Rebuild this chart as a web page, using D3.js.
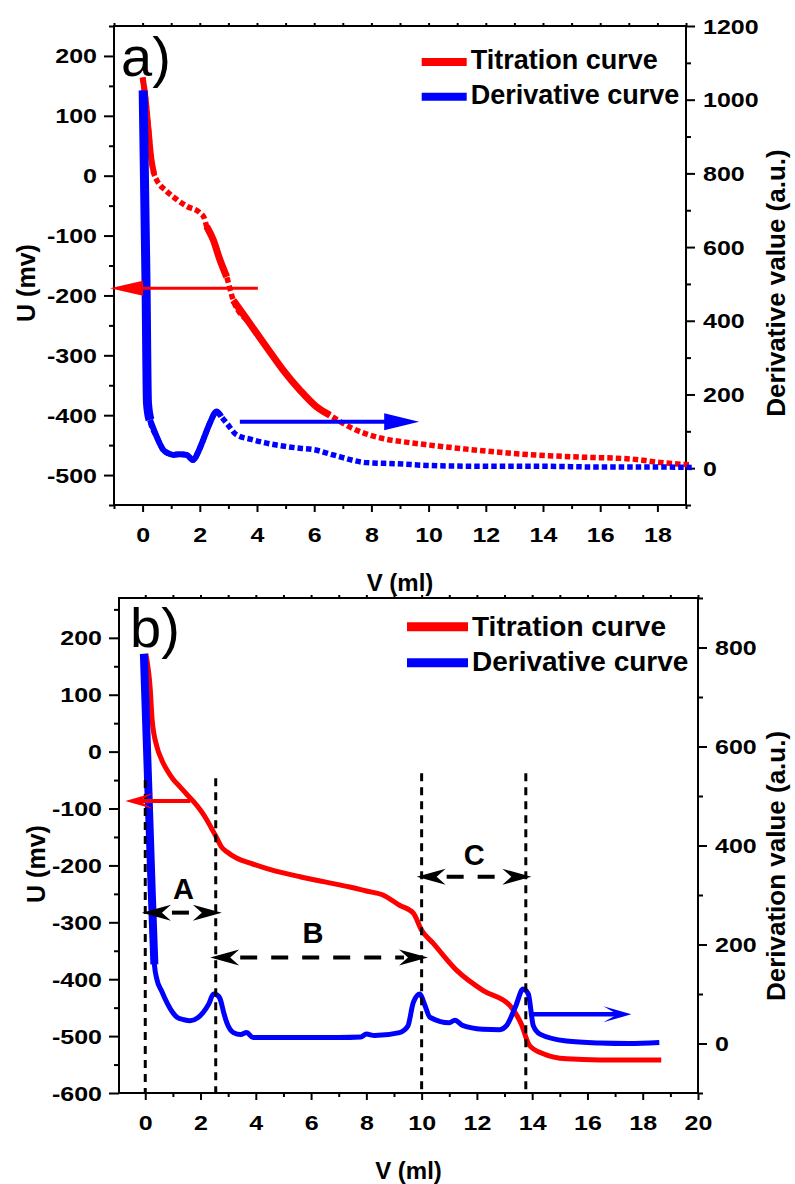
<!DOCTYPE html>
<html>
<head>
<meta charset="utf-8">
<script src="https://cdn.jsdelivr.net/npm/d3@7"></script>
<style>
  body { margin: 0; background: #fff; }
</style>
</head>
<body>
<div id="chart"></div>
<script>
// ---- panel a) data ----
const aTitrV = [0, 0.1, 0.2, 0.3, 0.4, 0.49, 0.84, 1.2, 1.54, 2.0, 2.15, 2.24, 2.47, 2.7, 2.94, 3.17, 3.75, 4.33, 4.92, 5.5, 6.08, 6.55, 7.25, 8.4, 9.2, 10.05, 11.8, 13.55, 15.3, 17.04, 18.1, 19.2];
const aTitrU = [164, 130, 80, 30, 3, -7, -26, -40, -51, -62, -70, -85, -107, -140, -169, -208, -247, -286, -325, -358, -386, -400, -420, -439, -445, -450, -459, -466, -470, -473, -479, -483];
const aDerV = [0.02, 0.12, 0.17, 0.26, 0.49, 0.72, 0.9, 1.07, 1.3, 1.54, 1.77, 1.95, 2.12, 2.35, 2.59, 2.75, 2.94, 3.29, 3.8, 4.33, 5.5, 6.0, 6.66, 7.83, 8.9, 10.05, 12, 14, 16, 18, 19.2];
const aDerD = [1025, 500, 177, 131, 86, 50, 40, 36, 38, 36, 22, 45, 77, 122, 154, 140, 122, 90, 78, 68, 54, 50, 36, 15, 12, 7, 5, 5, 3, 3, 2];

const aXTicks = [0, 2, 4, 6, 8, 10, 12, 14, 16, 18];
const aYTicks = [-500, -400, -300, -200, -100, 0, 100, 200];
const aY2Ticks = [0, 200, 400, 600, 800, 1000, 1200];

// ---- panel b) data ----
const bTitrV = [0.02, 0.18, 0.25, 0.42, 0.6, 0.78, 1.0, 1.26, 1.5, 1.75, 2.0, 2.23, 2.4, 2.59, 2.75, 2.95, 3.3, 3.8, 4.5, 5.6, 6.5, 7.4, 8.0, 8.6, 9.2, 9.7, 10.0, 10.42, 11.26, 12.23, 13.19, 13.4, 13.6, 13.9, 14.4, 15.24, 16.44, 18.67];
const bTitrU = [172, 110, 55, 9, -15, -32, -48, -62, -75, -88, -103, -120, -135, -152, -167, -176, -187, -196, -207, -220, -229, -238, -245, -252, -270, -284, -314, -337, -384, -420, -446, -460, -478, -516, -531, -540, -542, -542];
const bDerV = [-0.05, 0.24, 0.33, 0.42, 0.6, 0.78, 1.0, 1.15, 1.4, 1.63, 1.9, 2.1, 2.3, 2.47, 2.6, 2.71, 2.85, 2.95, 3.19, 3.45, 3.67, 3.9, 5.0, 6.0, 7.0, 7.8, 8.0, 8.3, 9.2, 9.5, 9.7, 9.94, 10.1, 10.3, 11.0, 11.2, 11.5, 12.2, 12.83, 13.07, 13.4, 13.67, 13.86, 14.04, 14.28, 15.24, 16.44, 17.5, 18.6];
const bDerD = [787, 298, 160, 130, 105, 83, 62, 53, 48, 46, 52, 63, 80, 100, 98, 90, 60, 42, 22, 18, 22, 12, 12, 12, 12, 13, 19, 16, 22, 35, 83, 100, 80, 53, 42, 47, 36, 29, 28, 36, 75, 110, 100, 36, 19, 5, 1, 0, 2];

const bXTicks = [0, 2, 4, 6, 8, 10, 12, 14, 16, 18, 20];
const bYTicks = [-600, -500, -400, -300, -200, -100, 0, 100, 200];
const bY2Ticks = [0, 200, 400, 600, 800];

// regions marked in b)
const markV = [0, 2.55, 10, 13.77];
const markTopU = [-50, -47, -38, -38];
const regionNames = ["A", "B", "C"];
const regionFrom = [-0.12, 2.35, 9.82];
const regionTo = [2.77, 10.23, 13.97];
const regionU = [-283, -362, -220];
const regionLabelV = [1.38, 6.07, 11.9];
const regionLabelU = [-259, -337, -200];

const legendNames = ["Titration curve", "Derivative curve"];

const W = 795, H = 1184;
const RED = "#ff0000", BLUE = "#0000ff";
const TEXT_FONT = "'Liberation Sans', Arial, sans-serif";
const TICK_STRETCH = 1.25; // tick digits in the original are wide

const svg = d3.select("#chart").append("svg")
  .attr("width", W)
  .attr("height", H)
  .style("background", "#fff");

const xa = d3.scaleLinear([-1, 19], [114, 686]);
const ya = d3.scaleLinear([-550, 250], [505, 26]);
const ya2 = d3.scaleLinear([-100, 1200], [505, 26]);

const xb = d3.scaleLinear([-0.95, 20], [119, 698]);
const yb = d3.scaleLinear([-600, 270], [1093, 598]);
const yb2 = d3.scaleLinear([-100, 900], [1093, 598]);

function axes(x, yL, yR, xTicks, yTicks, y2Ticks, yStep, y2Step) {
  const [x0, x1] = x.range();
  const [yBot, yTop] = yL.range();
  const g = svg.append("g");
  const fmt = d => String(d);
  const [dx0, dx1] = x.domain();
  const inside = s => v => v >= s.domain()[0] - 1e-6 && v <= s.domain()[1] + 1e-6;
  const xMinor = d3.range(Math.ceil(dx0), dx1 + 0.01, 1).filter(v => !xTicks.includes(v));
  const yMinor = d3.range(yTicks[0] - yStep / 2, yL.domain()[1] + 1, yStep).filter(inside(yL));
  const y2Minor = d3.range(y2Ticks[0] - y2Step / 2, yR.domain()[1] + 1, y2Step).filter(inside(yR));

  g.append("g").attr("transform", `translate(0,${yBot})`)
    .call(d3.axisBottom(x).tickValues(xMinor).tickSize(4).tickFormat(""));
  g.append("g").attr("transform", `translate(0,${yBot})`)
    .call(d3.axisBottom(x).tickValues(xTicks).tickSize(7).tickFormat(fmt))
    .call(a => a.selectAll("text").attr("y", 37).attr("dy", null));
  g.append("g").attr("transform", `translate(0,${yTop})`)
    .call(d3.axisTop(x).tickValues(xTicks.concat(xMinor)).tickSize(3).tickFormat(""));

  g.append("g").attr("transform", `translate(${x0},0)`)
    .call(d3.axisLeft(yL).tickValues(yMinor).tickSize(5).tickFormat(""));
  g.append("g").attr("transform", `translate(${x0},0)`)
    .call(d3.axisLeft(yL).tickValues(yTicks).tickSize(10).tickFormat(fmt))
    .call(a => a.selectAll("text").attr("x", -17 / TICK_STRETCH).attr("dy", "0.35em"));

  g.append("g").attr("transform", `translate(${x1},0)`)
    .call(d3.axisRight(yR).tickValues(y2Minor).tickSize(5).tickFormat(""));
  g.append("g").attr("transform", `translate(${x1},0)`)
    .call(d3.axisRight(yR).tickValues(y2Ticks).tickSize(9).tickFormat(fmt))
    .call(a => a.selectAll("text").attr("x", 17 / TICK_STRETCH).attr("dy", "0.35em"));

  g.selectAll(".domain").remove();
  g.selectAll(".tick line").attr("stroke", "#000").attr("stroke-width", 2);
  g.selectAll(".tick text")
    .attr("fill", "#000")
    .attr("font-family", TEXT_FONT)
    .attr("font-weight", "bold")
    .attr("font-size", 20)
    .attr("transform", `scale(${TICK_STRETCH},1)`);

  g.append("rect")
    .attr("x", x0).attr("y", yTop)
    .attr("width", x1 - x0).attr("height", yBot - yTop)
    .attr("fill", "none").attr("stroke", "#000").attr("stroke-width", 2);
}

function curve(x, y, pts, color, width, dash) {
  const line = d3.line().x(d => x(d[0])).y(d => y(d[1])).curve(d3.curveMonotoneX);
  const p = svg.append("path")
    .datum(pts)
    .attr("d", line)
    .attr("fill", "none")
    .attr("stroke", color)
    .attr("stroke-width", width)
    .attr("stroke-linejoin", "round");
  if (dash) p.attr("stroke-dasharray", dash);
  return p;
}

const within = (pts, a, b) => pts.filter(d => d[0] >= a && d[0] <= b);

function head(tx, ty, dir, L, h, inner, color) {
  svg.append("path")
    .attr("d", `M${tx},${ty} L${tx - dir * L},${ty - h} L${tx - dir * inner},${ty} L${tx - dir * L},${ty + h} Z`)
    .attr("fill", color);
}

function label(text, x, y, size, opts = {}) {
  const t = svg.append("text")
    .attr("font-family", TEXT_FONT)
    .attr("font-weight", opts.weight || "bold")
    .attr("font-size", size)
    .attr("text-anchor", opts.anchor || "start")
    .attr("fill", "#000")
    .text(text);
  if (opts.rotate) t.attr("transform", `translate(${x},${y}) rotate(-90)`);
  else t.attr("x", x).attr("y", y);
  return t;
}

function legend(x0, x1, rows, size, width) {
  rows.forEach((r, i) => {
    svg.append("line")
      .attr("x1", x0).attr("x2", x1)
      .attr("y1", r.y).attr("y2", r.y)
      .attr("stroke", r.color).attr("stroke-width", width);
    label(legendNames[i], x1 + 4, r.base, size);
  });
}

// ================= panel a) =================
axes(xa, ya, ya2, aXTicks, aYTicks, aY2Ticks, 100, 200);

const aTitr = d3.zip(aTitrV, aTitrU);
const aDer = d3.zip(aDerV, aDerD);

curve(xa, ya, aTitr, RED, 5.5, "5.5,3");
curve(xa, ya, within(aTitr, 0, 0.4), RED, 6);
curve(xa, ya, within(aTitr, 2.24, 2.94), RED, 7);
curve(xa, ya, within(aTitr, 3.17, 6.55), RED, 7);

curve(xa, ya2, aDer, BLUE, 5.5, "5.5,3");
curve(xa, ya2, within(aDer, 0, 0.26), BLUE, 9);
curve(xa, ya2, within(aDer, 0.26, 2.75), BLUE, 6);

// arrows pointing to the axes
svg.append("line")
  .attr("x1", xa(4.03)).attr("x2", xa(-1.14) + 20)
  .attr("y1", ya(-188)).attr("y2", ya(-188))
  .attr("stroke", RED).attr("stroke-width", 3);
head(xa(-1.14), ya(-188), -1, 33, 7.5, 33, RED);

svg.append("line")
  .attr("x1", xa(3.4)).attr("x2", xa(9.67) - 20)
  .attr("y1", ya2(126)).attr("y2", ya2(126))
  .attr("stroke", BLUE).attr("stroke-width", 4);
head(xa(9.67), ya2(126), 1, 35, 8.5, 35, BLUE);

legend(421.7, 466.7, [
  { y: 62, base: 68.5, color: RED },
  { y: 96.7, base: 103.5, color: BLUE }
], 27, 8);

label("a)", 121, 76, 56, { weight: "normal" });
label("V (ml)", 400, 591, 24, { anchor: "middle" });
label("U (mv)", 35, 283, 25, { anchor: "middle", rotate: true });
label("Derivative value (a.u.)", 785, 283, 26, { anchor: "middle", rotate: true });

// ================= panel b) =================
axes(xb, yb, yb2, bXTicks, bYTicks, bY2Ticks, 100, 200);

const bTitr = d3.zip(bTitrV, bTitrU);
const bDer = d3.zip(bDerV, bDerD);

curve(xb, yb, bTitr, RED, 5);
curve(xb, yb2, bDer, BLUE, 5);
curve(xb, yb2, within(bDer, -0.1, 0.33), BLUE, 8);

// dashed region borders
markV.forEach((v, i) => {
  svg.append("line")
    .attr("x1", xb(v)).attr("x2", xb(v))
    .attr("y1", yb(markTopU[i])).attr("y2", yb(-600))
    .attr("stroke", "#000").attr("stroke-width", 3)
    .attr("stroke-dasharray", "8,6");
});

// double arrows A, B, C
regionNames.forEach((name, i) => {
  const x1 = xb(regionFrom[i]), x2 = xb(regionTo[i]), y = yb(regionU[i]);
  svg.append("line")
    .attr("x1", x1 + 24).attr("x2", x2 - 24)
    .attr("y1", y).attr("y2", y)
    .attr("stroke", "#000").attr("stroke-width", 4)
    .attr("stroke-dasharray", "17,14")
    .attr("stroke-dashoffset", -6);
  head(x1, y, -1, 29, 8, 20, "#000");
  head(x2, y, 1, 29, 8, 20, "#000");
  label(name, xb(regionLabelV[i]), yb(regionLabelU[i]), 29, { anchor: "middle" });
});

// arrows pointing to the axes
svg.append("line")
  .attr("x1", xb(1.63)).attr("x2", xb(-0.72) + 10)
  .attr("y1", yb(-87)).attr("y2", yb(-87))
  .attr("stroke", RED).attr("stroke-width", 4);
head(xb(-0.72), yb(-87), -1, 28, 8, 14, RED);

svg.append("line")
  .attr("x1", xb(14.02)).attr("x2", xb(17.59) - 10)
  .attr("y1", yb2(59)).attr("y2", yb2(59))
  .attr("stroke", BLUE).attr("stroke-width", 4.5);
head(xb(17.59), yb2(59), 1, 28, 8, 14, BLUE);

legend(407, 468, [
  { y: 626.7, base: 636, color: RED },
  { y: 662.7, base: 671, color: BLUE }
], 28, 9);

label("b)", 130, 647, 56, { weight: "normal" });
label("V (ml)", 408.5, 1179, 24, { anchor: "middle" });
label("U (mv)", 45, 864, 25, { anchor: "middle", rotate: true });
label("Derivation value (a.u.)", 785, 866, 26, { anchor: "middle", rotate: true });
</script>
</body>
</html>
